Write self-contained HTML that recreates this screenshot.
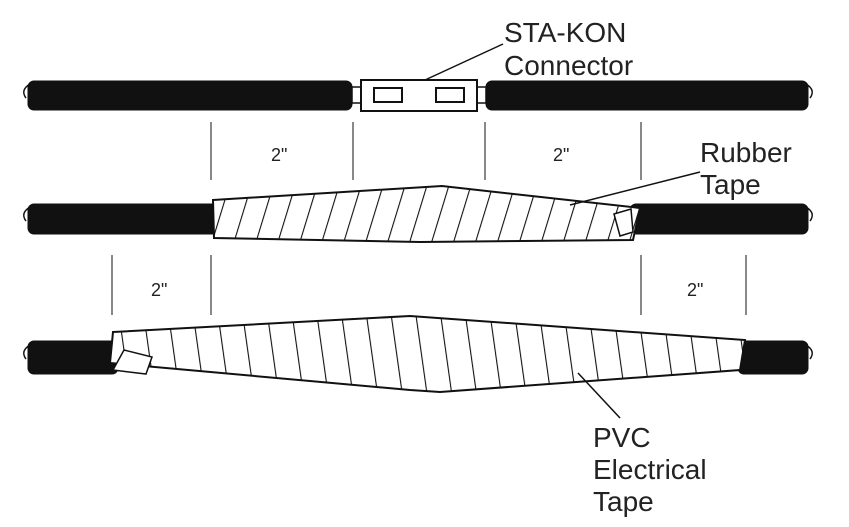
<!DOCTYPE html>
<html><head><meta charset="utf-8"><style>
html,body{margin:0;padding:0;background:#fff;}
svg{display:block;}
text{font-family:"Liberation Sans",Arial,sans-serif;fill:#222;}
</style></head><body>
<svg width="849" height="527" viewBox="0 0 849 527" xmlns="http://www.w3.org/2000/svg">
<defs>
<pattern id="p2" width="21" height="20" patternUnits="userSpaceOnUse" patternTransform="rotate(17)">
<rect width="21" height="20" fill="#fff"/><line x1="0" y1="0" x2="0" y2="20" stroke="#111" stroke-width="2.2"/>
</pattern>
<pattern id="p3" width="24.5" height="20" patternUnits="userSpaceOnUse" patternTransform="rotate(-8)">
<rect width="24.5" height="20" fill="#fff"/><line x1="0" y1="0" x2="0" y2="20" stroke="#111" stroke-width="2.2"/>
</pattern>
</defs>
<g stroke="#111" fill="#111">
<rect x="28" y="81" width="324" height="29" rx="6"/>
<rect x="486" y="81" width="322" height="29" rx="6"/>
<path d="M30 84 q-10 6 -4 14" fill="none" stroke-width="1.5"/>
<path d="M806 84 q10 6 4 14" fill="none" stroke-width="1.5"/>
<rect x="352" y="87" width="10" height="16" fill="#fff" stroke-width="1.5"/>
<rect x="476" y="87" width="10" height="16" fill="#fff" stroke-width="1.5"/>
<rect x="361" y="80" width="116" height="31" fill="#fff" stroke-width="2"/>
<rect x="374" y="88" width="28" height="14" fill="#fff" stroke-width="2"/>
<rect x="436" y="88" width="28" height="14" fill="#fff" stroke-width="2"/>
<line x1="425" y1="80" x2="503" y2="44" stroke-width="1.5"/>
<g stroke-width="1" fill="none">
<line x1="211" y1="122" x2="211" y2="180"/><line x1="353" y1="122" x2="353" y2="180"/>
<line x1="485" y1="122" x2="485" y2="180"/><line x1="641" y1="122" x2="641" y2="180"/>
<line x1="112" y1="255" x2="112" y2="315"/><line x1="211" y1="255" x2="211" y2="315"/>
<line x1="641" y1="255" x2="641" y2="315"/><line x1="746" y1="255" x2="746" y2="315"/>
</g>
<rect x="28" y="204" width="190" height="30" rx="6"/>
<rect x="630" y="204" width="178" height="30" rx="6"/>
<path d="M30 207 q-10 6 -4 14" fill="none" stroke-width="1.5"/>
<path d="M806 207 q10 6 4 14" fill="none" stroke-width="1.5"/>
<polygon points="213,200 442,186 640,208 633,240 420,242 214,238" fill="url(#p2)" stroke-width="2"/>
<polygon points="614,214 631,209 633,232 620,236" fill="#fff" stroke-width="1.5"/>
<line x1="570" y1="205" x2="700" y2="172" stroke-width="1.5"/>
<rect x="28" y="341" width="90" height="33" rx="6"/>
<rect x="738" y="341" width="70" height="33" rx="6"/>
<path d="M30 345 q-10 6 -4 14" fill="none" stroke-width="1.5"/>
<path d="M806 345 q10 6 4 14" fill="none" stroke-width="1.5"/>
<polygon points="113,332 410,316 745,340 740,370 440,392 410,390 110,363" fill="url(#p3)" stroke-width="2"/>
<polygon points="124,350 152,357 146,374 113,370" fill="#fff" stroke-width="1.5"/>
<line x1="578" y1="373" x2="620" y2="418" stroke-width="1.5"/>
</g>
<g font-size="28">
<text x="504" y="42">STA-KON</text>
<text x="504" y="75">Connector</text>
<text x="700" y="162">Rubber</text>
<text x="700" y="194">Tape</text>
<text x="593" y="447">PVC</text>
<text x="593" y="479">Electrical</text>
<text x="593" y="511">Tape</text>
</g>
<g font-size="18">
<text x="271" y="161">2"</text>
<text x="553" y="161">2"</text>
<text x="151" y="296">2"</text>
<text x="687" y="296">2"</text>
</g>
</svg>
</body></html>
